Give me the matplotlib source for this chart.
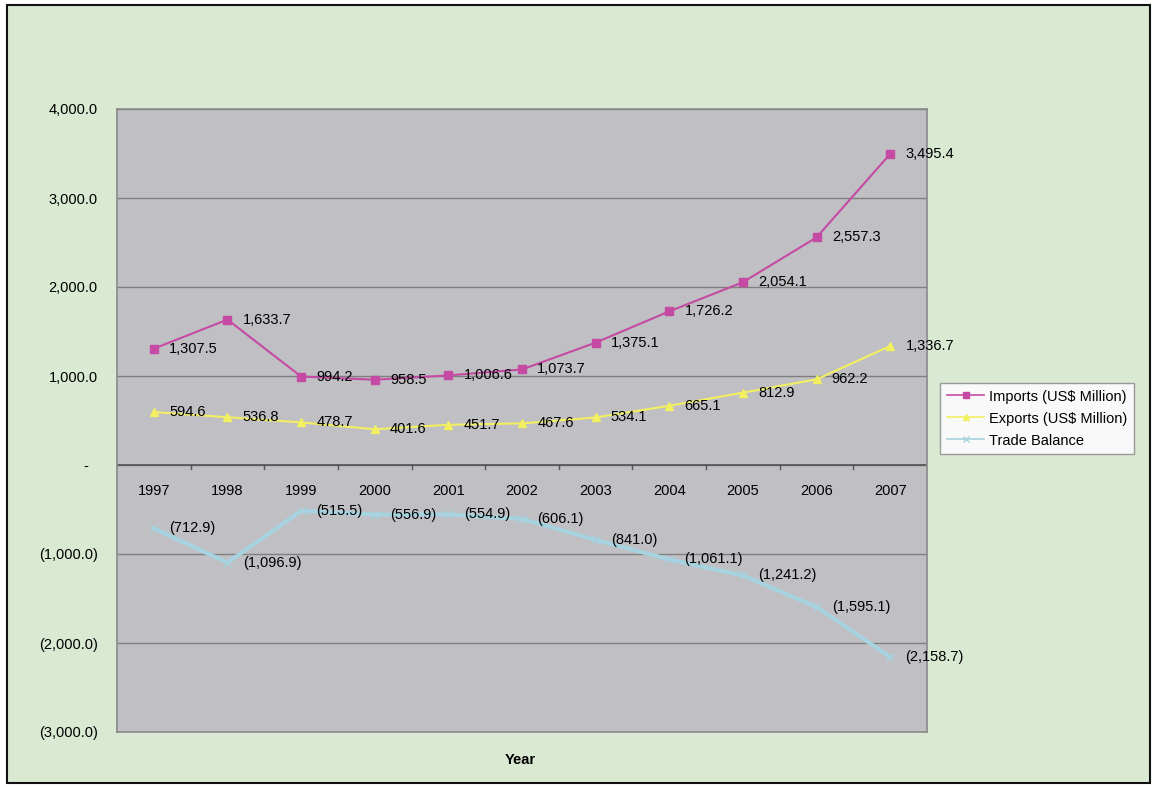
import matplotlib.pyplot as plt
from matplotlib.patches import Rectangle
from matplotlib.lines import Line2D

plt.rcParams['font.family'] = ['Liberation Sans', 'DejaVu Sans']

years = ['1997', '1998', '1999', '2000', '2001', '2002', '2003', '2004', '2005', '2006', '2007']
imports = [1307.5, 1633.7, 994.2, 958.5, 1006.6, 1073.7, 1375.1, 1726.2, 2054.1, 2557.3, 3495.4]
exports = [594.6, 536.8, 478.7, 401.6, 451.7, 467.6, 534.1, 665.1, 812.9, 962.2, 1336.7]
balance = [-712.9, -1096.9, -515.5, -556.9, -554.9, -606.1, -841.0, -1061.1, -1241.2, -1595.1, -2158.7]
series_names = ['Imports (US$ Million)', 'Exports (US$ Million)', 'Trade Balance']


def fmt(v):
    if v < 0:
        return '({:,.1f})'.format(-v)
    if v == 0:
        return '-  '
    return '{:,.1f}'.format(v)


FS = 10.5

fig = plt.figure(figsize=(11.56, 7.87), dpi=100)
fig.patch.set_facecolor('white')
fig.patches.append(Rectangle((7 / 1156, 4 / 787), 1143 / 1156, 778 / 787,
                             transform=fig.transFigure, facecolor='#d9e9d2',
                             edgecolor='#111111', linewidth=1.5, zorder=-10))

ax = fig.add_axes([117 / 1156, 1 - 732 / 787, 810 / 1156, 623 / 787])
ax.set_facecolor('#c0bfc3')
for s in ax.spines.values():
    s.set_color('#8a8a8a')
    s.set_linewidth(1.2)

x = list(range(len(years)))
ax.set_xlim(-0.5, len(years) - 0.5)
ax.set_ylim(-3000, 4000)
ax.set_yticks(range(-3000, 4001, 1000))
ax.set_yticklabels([fmt(v) for v in range(-3000, 4001, 1000)], fontsize=FS)
ax.tick_params(axis='y', length=0, pad=14)
ax.set_xticks([])
ax.grid(axis='y', color='#7f7f7f', linewidth=1)
ax.set_axisbelow(True)
ax.axhline(0, color='#555555', linewidth=1.2, zorder=1)

# category labels just below the zero line
for i, yr in enumerate(years):
    ax.annotate(yr, (i, 0), xytext=(0, -19), textcoords='offset points',
                ha='center', va='center', fontsize=FS)
for i in range(1, len(years)):
    ax.plot([i - 0.5, i - 0.5], [0, -40], color='#555555', linewidth=1, zorder=1)

styles = [
    (imports, '#c44aa3', 's', 1.5, 6),
    (exports, '#f2f060', '^', 1.5, 6),
    (balance, '#a6d3df', 'x', 3, 6),
]
for vals, col, mk, lw, ms in styles:
    ax.plot(x, vals, color=col, marker=mk, linewidth=lw, markersize=ms,
            markeredgecolor=col, zorder=3)
    for i, v in enumerate(vals):
        ax.annotate(fmt(v), (i, v), xytext=(11, 0), textcoords='offset points',
                    ha='left', va='center', fontsize=FS, zorder=4,
                    annotation_clip=False)

fig.text(520 / 1156, 1 - 760 / 787, 'Year', ha='center', va='center',
         fontsize=FS, fontweight='bold')

handles = [Line2D([], [], color=c, marker=m, linewidth=1.2,
                  markersize=5, markeredgecolor=c) for _, c, m, _, _ in styles]
leg = fig.legend(handles, series_names, loc='upper left',
                 bbox_to_anchor=(940 / 1156, 1 - 383 / 787), fontsize=FS,
                 frameon=True, fancybox=False, edgecolor='#9a9a9a',
                 facecolor='#f9f9f9', framealpha=1, handlelength=2.6,
                 handletextpad=0.3, borderpad=0.45, labelspacing=0.55,
                 borderaxespad=0)

fig.savefig('out.png', dpi=100)
